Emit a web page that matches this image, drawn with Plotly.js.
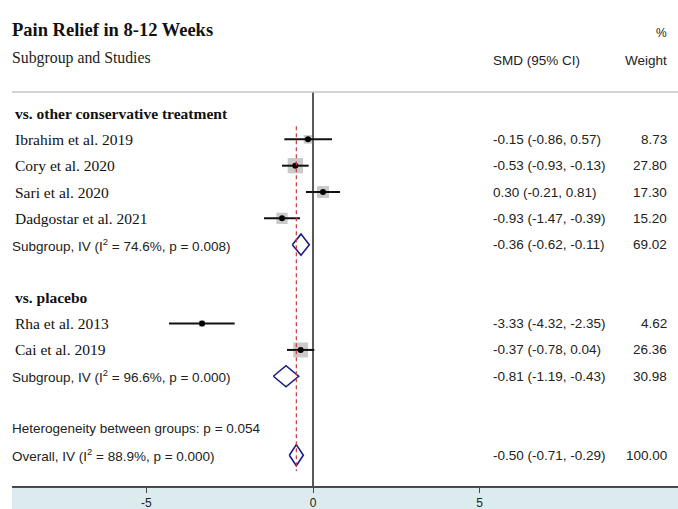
<!DOCTYPE html>
<html>
<head>
<meta charset="utf-8">
<script src="https://cdn.plot.ly/plotly-3.0.1.min.js"></script>
<style>html,body{margin:0;padding:0;background:#fff;}#chart{width:678px;height:509px;}</style>
</head>
<body>
<div id="chart"></div>
<script>
// ---- data ----
const studies = ['Ibrahim et al. 2019','Cory et al. 2020','Sari et al. 2020','Dadgostar et al. 2021','Rha et al. 2013','Cai et al. 2019'];
const studyEst = [-0.15,-0.53,0.30,-0.93,-3.33,-0.37];
const studyLo = [-0.86,-0.93,-0.21,-1.47,-4.32,-0.78];
const studyHi = [0.57,-0.13,0.81,-0.39,-2.35,0.04];
const studyWeight = [8.73,27.80,17.30,15.20,4.62,26.36];
const studyRows = [1,2,3,4,8,9];

const groupHeaders = ['vs. other conservative treatment','vs. placebo'];
const groupHeaderRows = [0,7];

const pooledLabels = ['Subgroup, IV (I<sup>2</sup> = 74.6%, p = 0.008)','Subgroup, IV (I<sup>2</sup> = 96.6%, p = 0.000)','Overall, IV (I<sup>2</sup> = 88.9%, p = 0.000)'];
const pooledEst = [-0.36,-0.81,-0.50];
const pooledLo = [-0.62,-1.19,-0.71];
const pooledHi = [-0.11,-0.43,-0.29];
const pooledWeight = [69.02,30.98,100.00];
const pooledRows = [5,10,13];

const heterogeneityText = 'Heterogeneity between groups: p = 0.054';
const heterogeneityRow = 12;

const xTicks = [-5,0,5];
const xTickLabels = ['-5','0','5'];

// ---- styling ----
const SERIF = 'Liberation Serif, Times New Roman, serif';
const SANS = 'Liberation Sans, Arial, sans-serif';
const fmt = v => v.toFixed(2);
const ciText = (e,l,h) => fmt(e) + ' (' + fmt(l) + ', ' + fmt(h) + ')';

const traces = [];

// weight squares
traces.push({
  type:'scatter', mode:'markers', x: studyEst, y: studyRows, hoverinfo:'skip',
  marker:{symbol:'square', size: studyWeight.map(w => 2.9*Math.sqrt(w)), color:'rgba(150,150,150,0.72)', line:{width:0}}
});

// CI lines
const ciX = [], ciY = [];
studyEst.forEach((e,i) => { ciX.push(studyLo[i], studyHi[i], null); ciY.push(studyRows[i], studyRows[i], null); });
traces.push({type:'scatter', mode:'lines', x: ciX, y: ciY, hoverinfo:'skip', line:{color:'#111', width:2}});

// point estimates
traces.push({type:'scatter', mode:'markers', x: studyEst, y: studyRows, hoverinfo:'skip',
  marker:{symbol:'circle', size:6, color:'#000'}});

// diamonds
const dh = 0.4;
const dX = [], dY = [];
pooledEst.forEach((e,i) => {
  const r = pooledRows[i];
  dX.push(pooledLo[i], e, pooledHi[i], e, pooledLo[i], null);
  dY.push(r, r-dh, r, r+dh, r, null);
});
traces.push({type:'scatter', mode:'lines', x: dX, y: dY, hoverinfo:'skip', line:{color:'#1c1c82', width:1.6}});

// overall dashed line
const overall = pooledEst[pooledEst.length-1];
traces.push({type:'scatter', mode:'lines', x:[overall, overall], y:[0.5, 13.6], hoverinfo:'skip',
  line:{color:'#cc3b3b', width:1.2, dash:'4px,3px'}});

// ---- annotations ----
const ann = [];
const colLeftSerif = 0.001, colLeftSans = -0.003, colSMD = 0.719, colW = 0.9865;
const serifFont = {family:SERIF, size:15.5, color:'#111'};
const sansFont = {family:SANS, size:13.5, color:'#222'};
function addText(text, xp, yv, opts, yref){
  ann.push(Object.assign({xref:'paper', yref:yref||'y', x:xp, y:yv, text:text, showarrow:false,
    xanchor:'left', yanchor:'middle', font:sansFont}, opts||{}));
}
// header texts (above plot, paper coords)
addText('<b>Pain Relief in 8-12 Weeks</b>', -0.003, 1.157, {font:{family:SERIF, size:18.5, color:'#111'}}, 'paper');
addText('Subgroup and Studies', -0.003, 1.086, {font:{family:SERIF, size:15.8, color:'#222'}}, 'paper');
addText('%', colW, 1.150, {xanchor:'right', font:{family:SANS, size:12, color:'#222'}}, 'paper');
addText('SMD (95% CI)', colSMD, 1.081, {}, 'paper');
addText('Weight', colW, 1.081, {xanchor:'right'}, 'paper');

groupHeaders.forEach((h,i) => addText('<b>'+h+'</b>', colLeftSerif, groupHeaderRows[i], {font:serifFont}));
studies.forEach((s,i) => {
  addText(s, colLeftSerif, studyRows[i], {font:serifFont});
  addText(ciText(studyEst[i], studyLo[i], studyHi[i]), colSMD, studyRows[i]);
  addText(fmt(studyWeight[i]), colW, studyRows[i], {xanchor:'right'});
});
pooledLabels.forEach((p,i) => {
  addText(p, colLeftSans, pooledRows[i]);
  addText(ciText(pooledEst[i], pooledLo[i], pooledHi[i]), colSMD, pooledRows[i]);
  addText(fmt(pooledWeight[i]), colW, pooledRows[i], {xanchor:'right'});
});
addText(heterogeneityText, colLeftSans, heterogeneityRow);

// ---- shapes ----
const shapes = [
  {type:'rect', xref:'paper', yref:'paper', x0:0, x1:1.05, y0:-0.2, y1:0, fillcolor:'#dcebee', line:{width:0}, layer:'below'},
  {type:'line', xref:'paper', yref:'paper', x0:0, x1:1, y0:1, y1:1, line:{color:'#c4c4c4', width:1.5}},
  {type:'line', xref:'x', yref:'paper', x0:0, x1:0, y0:0, y1:1, line:{color:'#5a5a5a', width:2}, layer:'below'}
];

const layout = {
  width:678, height:509,
  margin:{l:12, r:0, t:92, b:23, pad:0},
  paper_bgcolor:'#fff', plot_bgcolor:'rgba(0,0,0,0)',
  showlegend:false,
  xaxis:{range:[-9.03, 10.95], showgrid:false, zeroline:false, showline:true, linecolor:'#4a4a4a', linewidth:1.5,
    ticks:'outside', ticklen:5, tickwidth:1, tickcolor:'#4a4a4a', tickvals:xTicks, ticktext:xTickLabels,
    tickfont:{family:SANS, size:12, color:'#222'}, fixedrange:true},
  yaxis:{range:[14.17, -0.8], visible:false, showgrid:false, zeroline:false, fixedrange:true},
  annotations:ann,
  shapes:shapes
};

Plotly.newPlot('chart', traces, layout, {staticPlot:true, displayModeBar:false});
</script>
</body>
</html>
